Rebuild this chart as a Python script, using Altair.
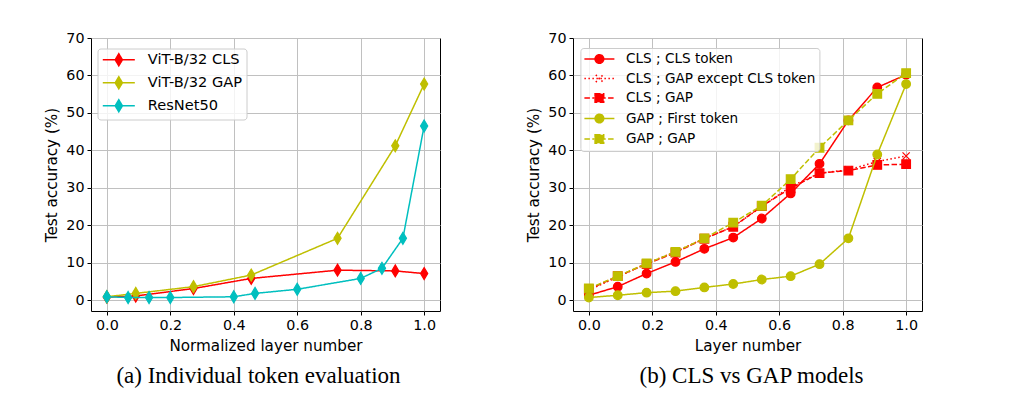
import altair as alt
import pandas as pd

# ---------------- Panel (a): Individual token evaluation ----------------
a_names = ["ViT-B/32 CLS", "ViT-B/32 GAP", "ResNet50"]
a_colors = ["#ff0000", "#bfbf00", "#00bfbf"]
a_vit_x = [0.0, 0.091, 0.273, 0.455, 0.727, 0.909, 1.0]
a_vit_cls = [0.8, 1.1, 3.1, 5.8, 8.0, 7.8, 7.1]
a_vit_gap = [0.9, 1.8, 3.6, 6.7, 16.5, 41.2, 57.7]
a_res_x = [0.0, 0.067, 0.133, 0.2, 0.4, 0.467, 0.6, 0.8, 0.867, 0.933, 1.0]
a_res = [0.9, 0.7, 0.7, 0.7, 0.9, 1.8, 2.9, 5.8, 8.5, 16.5, 46.5]

# ---------------- Panel (b): CLS vs GAP models ----------------
b_names = ["CLS ; CLS token", "CLS ; GAP except CLS token", "CLS ; GAP",
           "GAP ; First token", "GAP ; GAP"]
b_colors = ["#ff0000", "#ff0000", "#ff0000", "#bfbf00", "#bfbf00"]
b_x = [0.0, 0.091, 0.182, 0.273, 0.364, 0.455, 0.545, 0.636, 0.727, 0.818, 0.909, 1.0]
b_cls_cls = [1.3, 3.6, 7.1, 10.2, 13.7, 16.7, 21.8, 28.5, 36.4, 48.0, 56.8, 60.2]
b_cls_gapx = [2.7, 6.2, 9.8, 12.9, 16.5, 19.6, 25.0, 30.3, 33.9, 34.8, 37.0, 38.5]
b_cls_gap = [2.9, 6.4, 9.6, 12.7, 16.4, 19.6, 25.1, 29.9, 33.9, 34.6, 36.1, 36.3]
b_gap_first = [0.7, 1.3, 2.0, 2.4, 3.4, 4.3, 5.5, 6.4, 9.6, 16.5, 38.9, 57.7]
b_gap_gap = [3.1, 6.4, 9.8, 12.9, 16.5, 20.7, 25.2, 32.3, 40.7, 48.0, 55.1, 60.6]

x_ticks = [0.0, 0.2, 0.4, 0.6, 0.8, 1.0]
y_ticks = [0, 10, 20, 30, 40, 50, 60, 70]

# marker shapes (unit = sqrt(size)/2 px)
DIAMOND = "M0,-1L0.6,0L0,1L-0.6,0Z"
CIRCLE = "M0.72,0A0.72,0.72,0,1,1,-0.72,0A0.72,0.72,0,1,1,0.72,0Z"
SQUARE = "M-0.72,-0.72L0.72,-0.72L0.72,0.72L-0.72,0.72Z"
XMARK = "M-0.6,-0.6L0.6,0.6M-0.6,0.6L0.6,-0.6"

SOLID = [1, 0]
DOTTED = [1.5, 2.5]
DASHED = [5.5, 2.4]


def frame(xs_list, ys_list, names):
    rows = []
    for xs, ys, n in zip(xs_list, ys_list, names):
        for xv, yv in zip(xs, ys):
            rows.append({"x": xv, "acc": yv, "series": n})
    return pd.DataFrame(rows)


df_a = frame([a_vit_x, a_vit_x, a_res_x], [a_vit_cls, a_vit_gap, a_res], a_names)
df_b = frame([b_x] * 5, [b_cls_cls, b_cls_gapx, b_cls_gap, b_gap_first, b_gap_gap], b_names)


def panel(df, names, colors, dashes, markers, line_half, caption, xtitle,
          cap_dx, sym_off, lab_off, row_pad, leg_font, leg_x, leg_y):
    legend_paths = [f"M{-line_half},0L{line_half},0" + m for m in markers]
    legend = alt.Legend(
        title=None, orient="none", legendX=leg_x, legendY=leg_y, padding=4,
        fillColor="rgba(255,255,255,0.8)", strokeColor="#cccccc", cornerRadius=3,
        labelFont="DejaVu Sans", labelFontSize=leg_font, labelColor="black", labelLimit=400,
        symbolSize=144, symbolStrokeWidth=1.5, symbolOffset=sym_off, symbolOpacity=1,
        labelOffset=lab_off, rowPadding=row_pad,
    )
    x = alt.X("x:Q", scale=alt.Scale(domain=[-0.05, 1.05], nice=False, zero=False),
              axis=alt.Axis(values=x_ticks, format=".1f", title=xtitle))
    y = alt.Y("acc:Q", scale=alt.Scale(domain=[-2.9, 70], nice=False, zero=False),
              axis=alt.Axis(values=y_ticks, format="d", title="Test accuracy (%)"))
    base = alt.Chart(df)
    layers = []
    for n, c, d, m in zip(names, colors, dashes, markers):
        sub = base.transform_filter(alt.datum.series == n)
        layers.append(sub.mark_line(strokeWidth=1.5, opacity=1, color=c, strokeDash=d)
                      .encode(x=x, y=y))
        layers.append(sub.mark_point(filled=True, size=144, opacity=1, strokeWidth=1.2,
                                     shape=m, fill=c, stroke=c)
                      .encode(x=x, y=y))
    # legend-only layer (no data rows drawn)
    layers.append(
        base.transform_filter("false")
        .mark_point(filled=True, size=144, opacity=1, strokeWidth=1.5)
        .encode(
            x=x, y=y,
            fill=alt.Fill("series:N", scale=alt.Scale(domain=names, range=colors),
                          sort=names, legend=legend),
            stroke=alt.Stroke("series:N", scale=alt.Scale(domain=names, range=colors),
                              sort=names, legend=legend),
            shape=alt.Shape("series:N", scale=alt.Scale(domain=names, range=legend_paths),
                            sort=names, legend=legend),
            strokeDash=alt.StrokeDash("series:N", scale=alt.Scale(domain=names, range=dashes),
                                      sort=names, legend=legend),
        )
    )
    return alt.layer(*layers).properties(
        width=349, height=273,
        title=alt.TitleParams(caption, orient="bottom", anchor="middle", font="Liberation Serif",
                              fontSize=23, fontWeight="normal", color="black", dx=cap_dx,
                              offset=11),
    )


left = panel(df_a, a_names, a_colors, [SOLID, SOLID, SOLID], [DIAMOND] * 3, 2.67,
             "(a) Individual token evaluation", "Normalized layer number", -7,
             10, 21.7, 4, 14.6, 6.5, 10.5)
right = panel(df_b, b_names, b_colors, [SOLID, DOTTED, DASHED, SOLID, DASHED],
              [CIRCLE, XMARK, SQUARE, CIRCLE, SQUARE], 2.5,
              "(b) CLS vs GAP models", "Layer number", 4,
              8, 19.6, 4.5, 13.6, 7.4, 10)

chart = alt.hconcat(left, right, spacing=85).resolve_scale(
    strokeDash="independent", shape="independent", stroke="independent", fill="independent"
).resolve_legend(
    strokeDash="independent", shape="independent", stroke="independent", fill="independent"
).properties(
    padding={"left": 36, "top": 22, "right": 10, "bottom": 5}
).configure(background="white").configure_view(stroke="black", strokeWidth=1).configure_axis(
    labelFont="DejaVu Sans", labelFontSize=14.3, labelColor="black", labelPadding=3,
    titleFont="DejaVu Sans", titleFontSize=15.2, titleFontWeight="normal", titleColor="black",
    tickColor="black", tickSize=4, tickWidth=1, domain=False,
    gridColor="#c0c0c0", gridWidth=1, titlePadding=6,
)

chart.save("out.html", embed_options={"renderer": "svg", "actions": False})
